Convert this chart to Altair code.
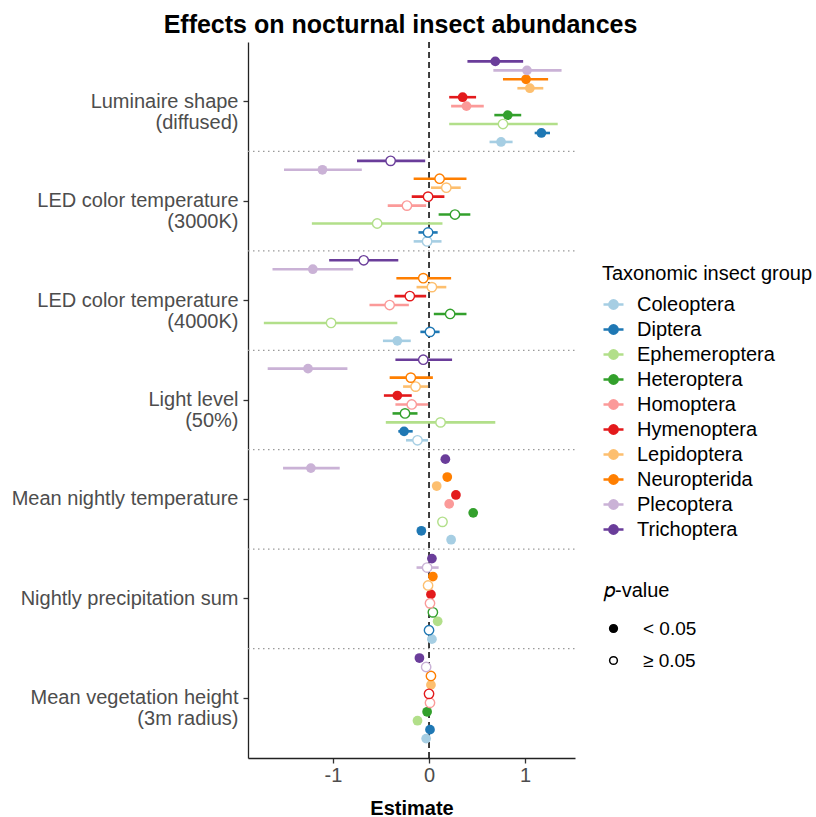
import altair as alt
import pandas as pd

FONT = "Liberation Sans"

predictors = [
    "Luminaire shape\n(diffused)",
    "LED color temperature\n(3000K)",
    "LED color temperature\n(4000K)",
    "Light level\n(50%)",
    "Mean nightly temperature",
    "Nightly precipitation sum",
    "Mean vegetation height\n(3m radius)",
]

groups = [
    "Coleoptera", "Diptera", "Ephemeroptera", "Heteroptera", "Homoptera",
    "Hymenoptera", "Lepidoptera", "Neuropterida", "Plecoptera", "Trichoptera",
]

colors = [
    "#a6cee3", "#1f78b4", "#b2df8a", "#33a02c", "#fb9a99",
    "#e31a1c", "#fdbf6f", "#ff7f00", "#cab2d6", "#6a3d9a",
]

# Estimates, lower / upper interval bounds and significance (1 = p < 0.05),
# one list per predictor, in the order of `groups`.
est_luminaire = [0.75, 1.17, 0.77, 0.82, 0.39, 0.35, 1.05, 1.01, 1.02, 0.69]
lo_luminaire = [0.63, 1.10, 0.21, 0.68, 0.23, 0.21, 0.92, 0.77, 0.67, 0.40]
hi_luminaire = [0.87, 1.26, 1.34, 0.96, 0.57, 0.49, 1.19, 1.24, 1.38, 0.98]
sig_luminaire = [1, 1, 0, 1, 1, 1, 1, 1, 1, 1]

est_3000k = [-0.02, -0.01, -0.54, 0.27, -0.23, -0.01, 0.18, 0.11, -1.11, -0.40]
lo_3000k = [-0.16, -0.11, -1.22, 0.10, -0.43, -0.18, 0.02, -0.16, -1.51, -0.75]
hi_3000k = [0.13, 0.09, 0.14, 0.43, -0.03, 0.16, 0.33, 0.39, -0.70, -0.04]
sig_3000k = [0, 0, 0, 0, 0, 0, 0, 0, 1, 0]

est_4000k = [-0.33, 0.01, -1.02, 0.22, -0.41, -0.20, 0.03, -0.06, -1.21, -0.68]
lo_4000k = [-0.48, -0.09, -1.72, 0.05, -0.62, -0.36, -0.13, -0.34, -1.63, -1.04]
hi_4000k = [-0.19, 0.11, -0.33, 0.39, -0.21, -0.03, 0.18, 0.23, -0.79, -0.32]
sig_4000k = [1, 0, 0, 0, 0, 0, 0, 0, 1, 0]

est_light = [-0.12, -0.26, 0.12, -0.25, -0.18, -0.33, -0.14, -0.19, -1.26, -0.06]
lo_light = [-0.24, -0.32, -0.45, -0.38, -0.35, -0.47, -0.27, -0.41, -1.68, -0.35]
hi_light = [-0.01, -0.17, 0.69, -0.12, -0.01, -0.18, -0.01, 0.04, -0.85, 0.24]
sig_light = [0, 1, 0, 0, 0, 1, 0, 0, 1, 0]

est_temp = [0.23, -0.08, 0.14, 0.46, 0.21, 0.28, 0.08, 0.19, -1.23, 0.17]
lo_temp = [0.20, -0.11, 0.09, 0.43, 0.18, 0.25, 0.05, 0.16, -1.52, 0.14]
hi_temp = [0.26, -0.05, 0.19, 0.49, 0.24, 0.31, 0.11, 0.22, -0.93, 0.20]
sig_temp = [1, 1, 0, 1, 1, 1, 1, 1, 1, 1]

est_precip = [0.03, 0.00, 0.09, 0.04, 0.01, 0.02, -0.01, 0.04, -0.02, 0.03]
lo_precip = [0.01, -0.03, 0.06, 0.00, -0.03, -0.01, -0.05, 0.01, -0.13, 0.00]
hi_precip = [0.05, 0.03, 0.12, 0.08, 0.05, 0.05, 0.03, 0.07, 0.10, 0.06]
sig_precip = [1, 0, 1, 0, 0, 1, 0, 1, 0, 1]

est_veg = [-0.03, 0.01, -0.12, -0.02, 0.01, 0.00, 0.02, 0.02, -0.03, -0.10]
lo_veg = [-0.06, -0.02, -0.15, -0.05, -0.02, -0.03, -0.01, -0.01, -0.06, -0.13]
hi_veg = [0.00, 0.04, -0.09, 0.01, 0.04, 0.03, 0.05, 0.05, 0.00, -0.07]
sig_veg = [1, 1, 1, 1, 0, 0, 1, 0, 0, 1]

p_labels = ["< 0.05", "\u2265 0.05"]

series = [
    (est_luminaire, lo_luminaire, hi_luminaire, sig_luminaire),
    (est_3000k, lo_3000k, hi_3000k, sig_3000k),
    (est_4000k, lo_4000k, hi_4000k, sig_4000k),
    (est_light, lo_light, hi_light, sig_light),
    (est_temp, lo_temp, hi_temp, sig_temp),
    (est_precip, lo_precip, hi_precip, sig_precip),
    (est_veg, lo_veg, hi_veg, sig_veg),
]

rows = []
for pred, (est, lo, hi, sig) in zip(predictors, series):
    for g, e, l, h, s in zip(groups, est, lo, hi, sig):
        rows.append({"predictor": pred, "group": g, "estimate": e,
                     "lower": l, "upper": h, "p": p_labels[0] if s else p_labels[1]})
df = pd.DataFrame(rows)

W, H = 327, 716
X_SCALE = alt.Scale(domain=[-1.885, 1.52], nice=False, zero=False)

y_enc = alt.Y(
    "predictor:N", sort=predictors, title=None,
    scale=alt.Scale(paddingInner=0, paddingOuter=0.1),
    axis=alt.Axis(
        labelExpr="split(datum.label, '\\n')", labelFont=FONT, labelFontSize=20,
        labelColor="#4d4d4d", labelLineHeight=21, labelPadding=5, tickSize=5,
        tickColor="#333333", domainColor="#222222", domainWidth=1.3, tickWidth=1.3,
        labelLimit=400,
    ),
)
y_off = alt.YOffset("group:N", sort=groups[::-1],
                    scale=alt.Scale(paddingInner=0, paddingOuter=0.555))
x_enc = alt.X(
    "estimate:Q", title="Estimate", scale=X_SCALE,
    axis=alt.Axis(
        values=[-1, 0, 1], labelExpr="'' + datum.value", grid=False,
        labelFont=FONT, labelFontSize=20,
        labelColor="#4d4d4d", labelPadding=2, tickSize=5, tickColor="#333333",
        domainColor="#222222", domainWidth=1.3, tickWidth=1.3,
        titleFont=FONT, titleFontSize=20, titleFontWeight="bold", titleColor="black",
        titlePadding=13,
    ),
)

color_enc = alt.Color(
    "group:N", scale=alt.Scale(domain=groups, range=colors),
    legend=alt.Legend(
        title="Taxonomic insect group", orient="none", legendX=354, legendY=222,
        titleFont=FONT, titleFontSize=20, titleFontWeight="normal", titleColor="black",
        titleLimit=400, labelLimit=300,
        labelFont=FONT, labelFontSize=20, labelColor="black",
        symbolType="M-1,0L1,0M0.42,0A0.42,0.42,0,1,1,-0.42,0A0.42,0.42,0,1,1,0.42,0Z",
        symbolSize=400, symbolStrokeWidth=2.4, rowPadding=3, labelOffset=12,
        titlePadding=9,
    ),
)

# dotted separators between predictor blocks
sep_df = pd.DataFrame({"predictor": predictors[1:]})
separators = alt.Chart(sep_df).mark_rule(
    color="#9a9a9a", strokeDash=[1.5, 3.5], strokeWidth=1.2
).encode(
    y=alt.Y("predictor:N", sort=predictors, bandPosition=0),
    x=alt.value(0), x2=alt.value("width"),
)

zero_line = alt.Chart(pd.DataFrame({"z": [0]})).mark_rule(
    color="black", strokeDash=[6, 4], strokeWidth=1.5
).encode(x=alt.X("z:Q", scale=X_SCALE))

base = alt.Chart(df)

bars = base.mark_rule(strokeWidth=2.6, opacity=1).encode(
    y=y_enc, yOffset=y_off,
    x=alt.X("lower:Q", scale=X_SCALE),
    x2="upper:Q", color=color_enc,
)

filled_pts = base.transform_filter(alt.datum.p == p_labels[0]).mark_point(
    filled=True, size=95, opacity=1
).encode(y=y_enc, yOffset=y_off, x=x_enc, color=color_enc)

open_pts = base.transform_filter(alt.datum.p == p_labels[1]).mark_point(
    filled=False, fill="white", size=88, strokeWidth=1.4, opacity=1
).encode(y=y_enc, yOffset=y_off, x=x_enc, color=color_enc)

# invisible marks carrying the p-value legend
p_df = pd.DataFrame({"p": p_labels})
p_key = alt.Chart(p_df).mark_point(filled=True, size=0, opacity=1).encode(
    fill=alt.Fill(
        "p:N", scale=alt.Scale(domain=p_labels, range=["black", "white"]),
        legend=alt.Legend(
            title="\U0001D45D-value", orient="none", legendX=356, legendY=539,
            titleFont=FONT, titleFontSize=20, titleFontWeight="normal", titleColor="black",
            labelFont=FONT, labelFontSize=19, labelColor="black",
            symbolType="circle", symbolSize=60, symbolStrokeColor="black",
            symbolStrokeWidth=1.5, symbolOpacity=1, rowPadding=12, labelOffset=20,
            titlePadding=18,
        ),
    )
)

chart = alt.layer(separators, zero_line, bars, filled_pts, open_pts, p_key).properties(
    width=W, height=H,
    title=alt.TitleParams(
        "Effects on nocturnal insect abundances", font=FONT, fontSize=25,
        fontWeight="bold", color="black", anchor="middle", dx=-11, offset=3,
    ),
    padding={"left": 248, "top": 42, "right": 241, "bottom": 59},
    autosize=alt.AutoSizeParams(type="none"),
).configure(background="white").configure_view(stroke=None)

chart.save("out.html", embed_options={"renderer": "svg", "actions": False})
